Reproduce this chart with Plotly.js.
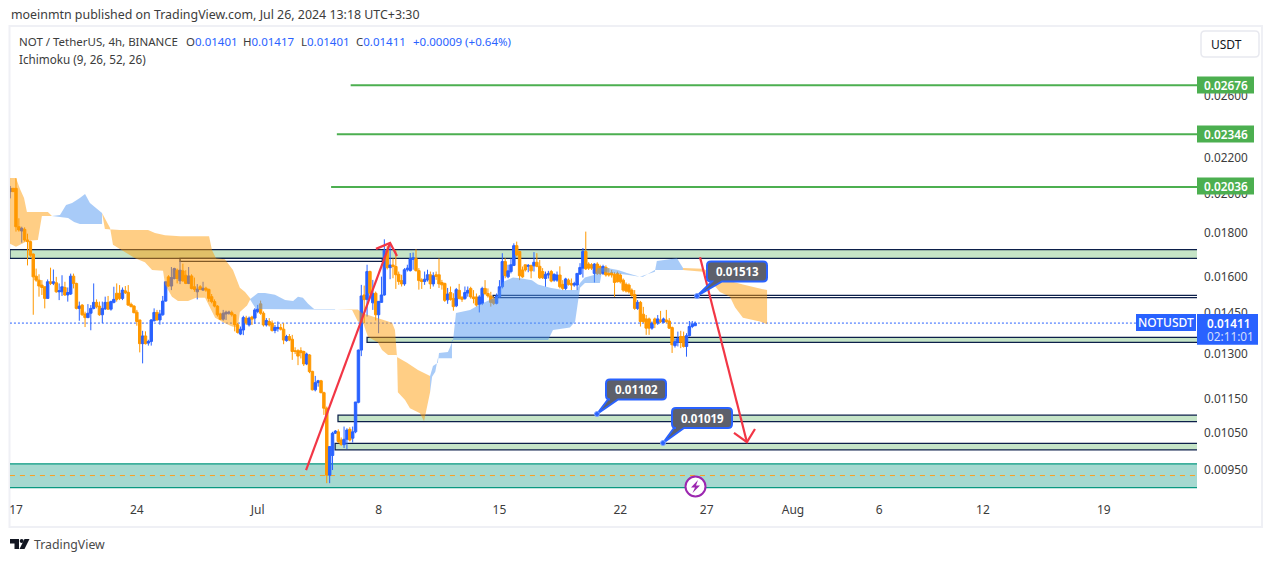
<!DOCTYPE html>
<html><head><meta charset="utf-8">
<script src="https://cdn.plot.ly/plotly-3.0.1.min.js"></script>
<style>html,body{margin:0;padding:0;background:#fff}#c{width:1273px;height:562px}</style></head>
<body><div id="c"></div>
<script>
// Prices are in units of 0.00001; one bar = 4 hours, bar 0 = 17 June 00:00
const firstBar = -2;
const open = [2010,2028,2028,1829,1808,1816,1765,1757,1699,1601,
1584,1563,1556,1508,1577,1570,1573,1535,1535,1553,
1522,1526,1601,1570,1468,1481,1446,1432,1449,1468,
1492,1477,1443,1466,1492,1465,1492,1529,1529,1508,
1539,1533,1484,1477,1453,1423,1335,1363,1337,1343,
1420,1452,1423,1443,1497,1598,1559,1591,1627,1581,
1624,1605,1570,1602,1556,1535,1556,1542,1550,1545,
1515,1495,1477,1446,1426,1446,1449,1451,1443,1405,
1370,1385,1430,1404,1434,1430,1456,1486,1449,1404,
1417,1411,1383,1390,1394,1388,1346,1361,1351,1310,
1310,1310,1307,1264,1295,1239,1179,1202,1208,1170,
1122,937,988,1049,1053,1030,1017,1032,1060,1035,
1053,1140,1312,1522,1504,1621,1490,1529,1443,1492,
1522,1717,1638,1650,1643,1609,1582,1568,1629,1625,
1675,1678,1625,1585,1578,1585,1607,1568,1607,1607,
1574,1570,1502,1532,1508,1478,1541,1512,1508,1530,
1549,1514,1514,1484,1488,1549,1528,1518,1505,1488,
1514,1556,1665,1598,1621,1648,1738,1711,1628,1651,
1644,1648,1646,1662,1644,1621,1591,1606,1621,1584,
1584,1606,1566,1549,1584,1570,1563,1563,1610,1636,
1711,1654,1651,1613,1654,1643,1613,1639,1613,1616,
1609,1613,1606,1584,1566,1563,1542,1524,1468,1492,
1445,1427,1427,1392,1427,1411,1423,1414,1423,1419,
1394,1328,1340,1361,1361,1325,1364,1398,1401];
const high = [2041,2030,2084,1871,1829,1826,1795,1762,1702,1634,
1609,1584,1556,1587,1638,1630,1598,1570,1605,1577,
1553,1612,1612,1573,1495,1485,1455,1485,1481,1570,
1504,1495,1495,1515,1518,1499,1556,1570,1563,1553,
1559,1563,1491,1481,1462,1423,1382,1380,1349,1426,
1468,1462,1462,1518,1577,1605,1641,1638,1634,1668,
1656,1627,1641,1609,1595,1567,1563,1577,1556,1548,
1526,1504,1481,1451,1462,1459,1459,1459,1446,1411,
1398,1439,1439,1436,1439,1469,1482,1499,1456,1430,
1430,1421,1404,1417,1408,1411,1367,1370,1367,1322,
1315,1322,1310,1303,1298,1241,1224,1211,1211,1173,
1127,1012,1053,1058,1060,1037,1068,1063,1066,1068,
1141,1314,1564,1561,1651,1625,1585,1536,1496,1599,
1768,1736,1749,1679,1717,1621,1607,1636,1651,1704,
1706,1721,1636,1592,1621,1629,1621,1618,1621,1679,
1585,1573,1551,1557,1529,1551,1568,1518,1557,1557,
1556,1542,1528,1521,1556,1584,1549,1535,1514,1528,
1584,1703,1680,1651,1680,1749,1757,1714,1643,1651,
1654,1651,1708,1703,1672,1636,1621,1624,1628,1613,
1621,1644,1584,1594,1591,1591,1577,1613,1658,1727,
1805,1662,1658,1658,1662,1651,1651,1648,1636,1628,
1618,1621,1613,1591,1574,1570,1549,1542,1501,1498,
1474,1442,1432,1417,1432,1442,1458,1432,1462,1430,
1398,1354,1379,1382,1379,1373,1419,1419,1417];
const low = [1974,2008,1805,1805,1752,1757,1648,1686,1443,1577,
1515,1522,1468,1508,1563,1563,1531,1501,1518,1518,
1495,1522,1549,1464,1420,1439,1396,1430,1384,1464,
1468,1439,1411,1462,1462,1459,1488,1495,1501,1501,
1526,1478,1472,1449,1401,1304,1266,1332,1328,1328,
1417,1420,1405,1439,1495,1556,1542,1587,1570,1567,
1577,1567,1567,1545,1535,1504,1542,1539,1535,1495,
1488,1472,1436,1423,1420,1423,1443,1436,1380,1372,
1366,1366,1404,1398,1404,1408,1449,1443,1398,1398,
1398,1379,1373,1379,1383,1333,1342,1344,1278,1298,
1260,1283,1257,1260,1233,1177,1174,1189,1168,1102,
917,917,950,1047,1021,1014,1008,1005,1026,1023,
1049,1137,1291,1411,1436,1508,1462,1421,1373,1490,
1519,1630,1588,1592,1547,1564,1557,1560,1621,1621,
1629,1621,1544,1547,1564,1578,1547,1557,1585,1551,
1544,1494,1486,1499,1459,1473,1504,1494,1502,1515,
1507,1488,1475,1452,1481,1521,1511,1475,1481,1484,
1511,1549,1592,1592,1613,1645,1688,1584,1594,1621,
1618,1592,1621,1640,1589,1589,1556,1591,1575,1577,
1577,1549,1542,1542,1561,1542,1556,1542,1606,1595,
1628,1628,1628,1574,1606,1606,1606,1599,1599,1595,
1514,1574,1570,1535,1532,1528,1514,1462,1462,1398,
1411,1367,1367,1386,1392,1404,1411,1413,1411,1389,
1302,1321,1325,1319,1321,1289,1361,1392,1401];
const close = [2028,2010,1829,1813,1821,1765,1757,1694,1598,1584,
1559,1553,1508,1577,1570,1577,1535,1539,1556,1522,
1532,1601,1570,1468,1477,1443,1432,1449,1468,1492,
1475,1443,1468,1492,1465,1495,1504,1504,1508,1542,
1531,1481,1475,1451,1417,1335,1363,1335,1343,1423,
1452,1423,1446,1497,1577,1559,1595,1634,1591,1627,
1581,1570,1602,1549,1545,1546,1545,1550,1542,1508,
1495,1477,1443,1426,1449,1453,1453,1443,1405,1376,
1388,1432,1411,1430,1426,1462,1465,1449,1404,1421,
1404,1383,1395,1395,1388,1348,1361,1348,1307,1307,
1291,1303,1264,1298,1238,1179,1202,1208,1170,1122,
937,1012,1049,1055,1026,1018,1032,1058,1030,1053,
1141,1312,1518,1503,1621,1529,1529,1443,1496,1522,
1717,1638,1650,1643,1607,1578,1568,1629,1636,1678,
1682,1625,1582,1578,1588,1607,1568,1603,1600,1568,
1564,1500,1526,1504,1475,1544,1508,1504,1532,1541,
1514,1507,1481,1514,1549,1528,1518,1492,1488,1518,
1556,1665,1603,1624,1651,1738,1695,1603,1598,1628,
1648,1624,1662,1644,1594,1594,1609,1613,1580,1609,
1606,1556,1549,1589,1566,1563,1570,1613,1639,1711,
1633,1636,1636,1654,1613,1613,1643,1606,1606,1606,
1574,1577,1577,1542,1538,1535,1521,1468,1492,1417,
1417,1392,1392,1411,1408,1427,1417,1427,1417,1392,
1331,1342,1354,1340,1325,1364,1398,1407,1411];

// Ichimoku cloud outlines: bar position and price of each vertex
const orangeAX=[-2.1,0,1.4,2.8,3.8,5.6,9,11.1,12.5,10.8,9,7.6,4.2,2.1,0,-2.1];
const orangeAY=[2085,2085,2024,1976,1903,1903,1903,1903,1882,1882,1882,1765,1761,1747,1733,1747];
const blueAX=[12.5,15.3,17.4,19.5,22.2,24,25.7,27.8,29.9,29.9,22.2,20.2,18.1,15.3];
const blueAY=[1882,1887,1939,1949,1976,1997,1949,1923,1898,1842,1842,1852,1872,1877];
const orangeBX=[29.9,30.9,36.1,45.9,48.3,51.8,57,67.1,68.1,69.5,72.6,75.4,77.8,79.6,81.5,80.3,77.8,77.1,75.1,72.3,69.2,67.4,65.7,62.6,59.8,56.3,54.2,51.8,51.1,47.3,44.8,41.4,36.8,33.7,32.7];
const orangeBY=[1898,1818,1813,1813,1798,1788,1783,1783,1718,1680,1676,1628,1552,1534,1507,1479,1454,1394,1398,1412,1431,1471,1511,1511,1497,1497,1515,1565,1624,1628,1662,1680,1718,1742,1823];
const blueBX=[81.3,84.1,86.5,90,93.5,96.3,98,99.7,101.5,103.6,110.9,110.9,103.6,83.4];
const blueBY=[1505,1530,1530,1523,1501,1497,1515,1511,1486,1466,1466,1464,1464,1466];
const orangeCX=[111.5,118.8,120.2,125.8,130.7,131.7,132.4,135.9,139.7,143.9,143.9,141.8,140.4,136.9,135.2,132.7,132.4,129.3,127.2,125.8,122.3,120.6,118.8,116.8];
const orangeCY=[1464,1464,1450,1431,1412,1385,1288,1268,1244,1224,1171,1083,1107,1122,1147,1171,1295,1295,1312,1339,1360,1412,1417,1462];
const blueCX=[143.9,144.9,146.6,147,150.1,151.9,152.9,157.8,161.2,167.1,169.2,172.7,175.8,179.3,181.4,185.6,190.1,194.9,196,197.7,201.2,202.2,205.4,209.2,212.3,215.1,216.8,212.3,203.6,202.9,197.7,196,195.3,194.3,192.5,186.6,184.9,157.8,151.5,151.5,146.6,145.7,144.6,143.9];
const blueCY=[1224,1257,1268,1302,1305,1348,1450,1462,1483,1515,1576,1595,1591,1584,1565,1552,1542,1542,1572,1595,1607,1637,1637,1628,1615,1607,1599,1607,1620,1572,1572,1552,1501,1417,1394,1385,1348,1348,1348,1284,1284,1238,1221,1171];
const blueDX=[216.8,222,222.7,229.7,231.8,231.8,222,217.9];
const blueDY=[1599,1620,1668,1680,1637,1628,1628,1599];
const orangeDX=[231.8,238.7,247.1,252.6,261,261,258.5,252.6,249.9,248.1,244.6,238.7,231.8];
const orangeDY=[1637,1633,1584,1565,1542,1407,1417,1431,1471,1515,1534,1620,1628];

// Target lines
const targetPrices=[2676,2346,2036];
const targetStarts=[116.3,111.5,109.5];
const targetLabels=["0.02676","0.02346","0.02036"];

// Support / resistance zones: start bar, end bar, top price, bottom price
const zoneStarts=[-2.1,57,165.8,122,111.9,110.9];
const zoneEnds=[412,127.3,412,412,412,412];
const zoneTops=[1720,1680,1520,1358,1101,1021];
const zoneBottoms=[1680,1666,1511,1340,1082,1003];
const zoneFills=["#c5e4c7","rgba(255,255,255,0)","rgba(255,255,255,0)","#c5e4c7","#c5e4c7","#c5e4c7"];
const demandTop=966, demandBottom=906, demandMid=936;

// Red trend arrows
const redX=[100.8,130,null,125.1,130,132.4,null,237.7,254,null,249.5,254,256.8];
const redY=[950,1751,null,1723,1751,1690,null,1685,1024,null,1050,1024,1061];

const lastPrice=1411;
const tickDays=[0,42,84,126,168,210,240,270,300,336,378];
const tickText=["17","24","Jul","8","15","22","27","Aug","6","12","19"];
const priceTicks=[2600,2200,2000,1800,1600,1450,1300,1150,1050,950];
const priceTickText=["0.02600","0.02200","0.02000","0.01800","0.01600","0.01450","0.01300","0.01150","0.01050","0.00950"];

const P=v=>v==null?null:v/1e5;
const font="'Noto Sans', sans-serif";
const xEnd=410.4;
const bars=open.map((_,i)=>firstBar+i);

function poly(x,y,color){return {type:'scatter',mode:'lines',x:x.concat(x[0]),y:y.concat(y[0]).map(P),fill:'toself',fillcolor:color,line:{width:0,color:color},hoverinfo:'skip',showlegend:false};}
const OR='rgba(255,152,0,0.48)', BL='rgba(82,152,241,0.5)';

const traces=[
 poly(orangeAX,orangeAY,OR),poly(blueAX,blueAY,BL),poly(orangeBX,orangeBY,OR),poly(blueBX,blueBY,BL),
 poly(orangeCX,orangeCY,OR),poly(blueCX,blueCY,BL),poly(blueDX,blueDY,BL),poly(orangeDX,orangeDY,OR),
 {type:'candlestick',x:bars,open:open.map(P),high:high.map(P),low:low.map(P),close:close.map(P),
  increasing:{line:{color:'#2962ff',width:1},fillcolor:'#2962ff'},
  decreasing:{line:{color:'#ff9800',width:1},fillcolor:'#ff9800'},whiskerwidth:0,hoverinfo:'skip',showlegend:false},
 {type:'scatter',mode:'lines',x:redX,y:redY.map(P),line:{color:'#f23645',width:2.2},hoverinfo:'skip',showlegend:false,connectgaps:false}
];
targetPrices.forEach((p,i)=>traces.push({type:'scatter',mode:'lines',x:[targetStarts[i],xEnd],y:[P(p),P(p)],line:{color:'#4caf50',width:2},hoverinfo:'skip',showlegend:false}));

// chrome placed in page pixels
const PX=x=>(x-10)/1187, PY=y=>(497-y)/470;
const shapes=[];
const anns=[];
function rect(x0,y0,x1,y1,fill,lc,lw,extra){shapes.push(Object.assign({type:'rect',xref:'paper',yref:'paper',x0:PX(x0),x1:PX(x1),y0:PY(y0),y1:PY(y1),fillcolor:fill,line:{color:lc||fill,width:lw==null?0:lw},layer:'above'},extra||{}));}
function pathOf(cmds){return cmds.map(c=>{if(c.length===1)return c[0];let s=c[0];for(let i=1;i<c.length;i+=2){s+=(i>1?' ':'')+PX(c[i])+','+PY(c[i+1]);}return s;}).join(' ');}
function path(cmds,fill,lc,lw){shapes.push({type:'path',xref:'paper',yref:'paper',path:pathOf(cmds),fillcolor:fill,line:{color:lc||fill,width:lw||0},layer:'above'});}
function label(x,y,text,size,color,anchor,weight){anns.push({xref:'paper',yref:'paper',x:PX(x),y:PY(y),text:text,showarrow:false,xanchor:anchor||'left',yanchor:'middle',font:{family:font,size:size,color:color,weight:weight||400},borderpad:0});}
function circle(cx,cy,r,fill,lc,lw){shapes.push({type:'circle',xref:'paper',yref:'paper',x0:PX(cx-r),x1:PX(cx+r),y0:PY(cy+r),y1:PY(cy-r),fillcolor:fill,line:{color:lc||fill,width:lw||0},layer:'above'});}

// frame
shapes.push({type:'rect',xref:'paper',yref:'paper',x0:PX(9.5),x1:PX(1262),y0:PY(527),y1:PY(26),fillcolor:'rgba(0,0,0,0)',line:{color:'#eff0f5',width:2},layer:'below'});

// zones, drawn under the candles, in data coordinates
zoneStarts.forEach((s,i)=>shapes.push({type:'rect',xref:'x',yref:'y',x0:s,x1:zoneEnds[i],y0:P(zoneBottoms[i]),y1:P(zoneTops[i]),fillcolor:zoneFills[i],line:{color:'#0c1f4a',width:1.25},layer:'below'}));
shapes.push({type:'rect',xref:'x',yref:'y',x0:-4,x1:xEnd+2,y0:P(demandBottom),y1:P(demandTop),fillcolor:'#a5d9d0',line:{color:'#089981',width:1.25},layer:'below'});
shapes.push({type:'line',xref:'x',yref:'y',x0:-2.1,x1:xEnd,y0:P(demandMid),y1:P(demandMid),line:{color:'#ff9f1c',width:1,dash:'5px,5px'},layer:'below'});
shapes.push({type:'line',xref:'x',yref:'y',x0:-2.1,x1:xEnd,y0:P(lastPrice),y1:P(lastPrice),line:{color:'#2962ff',width:1,dash:'2px,2px'},layer:'below'});

// target price tags
[85,134,186].forEach((yc,i)=>{rect(1197,yc-8.5,1254,yc+8.5,'#4caf50');label(1225.5,yc,targetLabels[i],11.8,'#fff','center',600);});

// last price tags
rect(1136,314,1196,331,'#2962ff');
label(1166,322.5,'NOTUSDT',12,'#fff','center',500);
rect(1197,314,1258,344.7,'#2962ff');
label(1206,322.5,'0.01411',11.7,'#fff','left',600);
label(1206,336.5,'02:11:01',11.8,'#d4dffc','left',400);

// callouts
function callout(x0,y0,dotX,dotY,tailA,tailB,text){
 const w=60,h=20,r=4,x1=x0+w,y1=y0+h;
 path([['M',x0+r,y0],['L',x1-r,y0],['Q',x1,y0,x1,y0+r],['L',x1,y1-r],['Q',x1,y1,x1-r,y1],['L',tailB,y1],['L',dotX,dotY],['L',tailA,y1],['L',x0+r,y1],['Q',x0,y1,x0,y1-r],['L',x0,y0+r],['Q',x0,y0,x0+r,y0],['Z']],'#5d606b','#2962ff',2);
 circle(dotX,dotY,2.5,'#2962ff','#7ea3ff',1);
 label(x0+w/2,y0+h/2,text,11.5,'#fff','center',700);
}
callout(707,261.5,697,296,712,722,'0.01513');
callout(606,379.5,597,414,608,618,'0.01102');
callout(672,408,663,443,674,684,'0.01019');

// lightning badge
circle(695.5,486.5,10,'#fff','#9c27b0',2);
path([['M',698,480],['L',691,487.5],['L',695,487.5],['L',692.5,493],['L',700,485.5],['L',696,485.5],['Z']],'#9c27b0');

// currency button
path([['M',1205,31],['L',1255,31],['Q',1259,31,1259,35],['L',1259,53],['Q',1259,57,1255,57],['L',1205,57],['Q',1201,57,1201,53],['L',1201,35],['Q',1201,31,1205,31],['Z']],'#fff','#e8e9ef',1.5);
label(1210,44.5,'USDT',12,'#131722');

// header
label(10,14.5,'moeinmtn published on TradingView.com, Jul 26, 2024 13:18 UTC+3:30',12.4,'#3c3c3c');
const b=s=>'<span style="color:#2962ff">'+s+'</span>';
label(18,41.5,'NOT / TetherUS, 4h, BINANCE',11.5,'#3c3c3c');
label(185,41.5,'O'+b('0.01401'),11.5,'#3c3c3c');
label(242,41.5,'H'+b('0.01417'),11.5,'#3c3c3c');
label(300,41.5,'L'+b('0.01401'),11.5,'#3c3c3c');
label(355,41.5,'C'+b('0.01411'),11.5,'#3c3c3c');
label(411.5,41.5,b('+0.00009 (+0.64%)'),11.5,'#3c3c3c');
label(18,59,'Ichimoku (9, 26, 52, 26)',11.7,'#3c3c3c');

// logo
path([['M',10,539],['L',19,539],['L',19,549],['L',14.5,549],['L',14.5,543.5],['L',10,543.5],['Z']],'#131722');
circle(21.7,541,2,'#131722');
path([['M',24.5,539],['L',29.5,539],['L',24.5,549],['L',19.5,549],['Z']],'#131722');
label(33,544.5,'TradingView',12.3,'#4a4a4a');

Plotly.newPlot('c',traces,{
 width:1273,height:562,paper_bgcolor:'#fff',plot_bgcolor:'#fff',showlegend:false,
 margin:{l:10,r:76,t:27,b:65,pad:0},boxgap:0.15,boxgroupgap:0,dragmode:false,
 font:{family:font,size:12,color:'#3c3c3c'},
 xaxis:{type:'linear',range:[-2.08,xEnd],tickmode:'array',tickvals:tickDays,ticktext:tickText,showgrid:false,zeroline:false,showline:false,ticks:'',ticklabelstandoff:4,rangeslider:{visible:false},fixedrange:true,tickfont:{family:font,size:12,color:'#3c3c3c'}},
 yaxis:{type:'log',side:'right',range:[-2.0538,-1.5043],tickmode:'array',tickvals:priceTicks.map(P),ticktext:priceTickText,showgrid:false,zeroline:false,showline:false,ticks:'',ticklabelstandoff:6,fixedrange:true,tickfont:{family:font,size:11.8,color:'#3c3c3c'}},
 shapes:shapes,annotations:anns
},{displayModeBar:false,staticPlot:true});
</script></body></html>
